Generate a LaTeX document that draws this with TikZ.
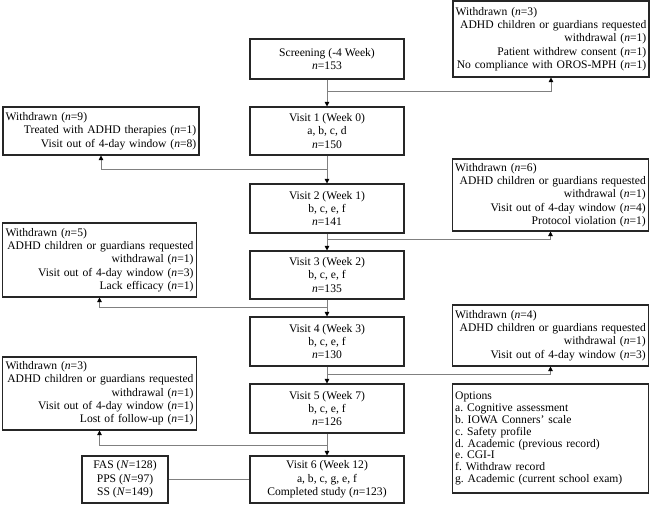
\documentclass[tikz,border=0pt]{standalone}
\usepackage{fontspec}
\setmainfont{Liberation Serif}
\usepackage{tikz}
\usetikzlibrary{arrows.meta}
\tikzset{
  visit/.style={draw=black!85, line width=0.8pt, align=center, minimum width=115.5pt, inner sep=2pt, font=\fontsize{8.7}{10}\selectfont},
  wbox/.style={draw=black!85, line width=0.8pt, align=right, text width=143pt, inner xsep=2pt, inner ysep=2pt, font=\fontsize{8.7}{10}\selectfont},
  obox/.style={draw=black!85, line width=0.8pt, align=left, text width=143pt, inner xsep=2pt, font=\fontsize{8.7}{8.9}\selectfont},
  link/.style={draw=black!50, line width=0.6pt},
  arr/.style={link, -{Triangle[length=3.5pt, width=3.5pt, color=black]}}
}
\newcommand{\wdhead}[1]{Withdrawn (\textit{n}=#1)\hfill\mbox{}}

\begin{document}
\begin{tikzpicture}[x=0.75pt, y=-0.75pt]
			%%%%% START %%%%%
			\useasboundingbox (0, 0) rectangle (650, 505);
			
			\node[visit, minimum height=30pt] (screen) at (327, 59) {Screening (-4 Week)\\\textit{n}=153};
			\node[visit, minimum height=36pt] (v1) at (327, 131) {Visit 1 (Week 0)\\a, b, c, d\\\textit{n}=150};
			\node[visit, minimum height=36.75pt] (v2) at (327, 208.5) {Visit 2 (Week 1)\\b, c, e, f\\\textit{n}=141};
			\node[visit, minimum height=36pt] (v3) at (327, 275) {Visit 3 (Week 2)\\b, c, e, f\\\textit{n}=135};
			\node[visit, minimum height=36.75pt] (v4) at (327, 341.5) {Visit 4 (Week 3)\\b, c, e, f\\\textit{n}=130};
			\node[visit, minimum height=36.75pt] (v5) at (327, 408.5) {Visit 5 (Week 7)\\b, c, e, f\\\textit{n}=126};
			\node[visit, minimum height=35.25pt] (v6) at (327, 479.5) {Visit 6 (Week 12)\\a, b, c, g, e, f\\Completed study (\textit{n}=123)};
			
			\node[visit, minimum width=64.5pt, minimum height=35.25pt] (fas) at (125, 479.5) {FAS (\textit{N}=128)\\PPS (\textit{N}=97)\\SS (\textit{N}=149)};
			
			\node[wbox, minimum height=57pt] (wd0) at (551, 39) {\wdhead{3}\\ADHD children or guardians requested\\withdrawal (\textit{n}=1)\\Patient withdrew consent (\textit{n}=1)\\No compliance with OROS-MPH (\textit{n}=1)};
			\node[wbox, minimum height=36pt] (wd1) at (101, 131) {\wdhead{9}\\Treated with ADHD therapies (\textit{n}=1)\\Visit out of 4-day window (\textit{n}=8)};
			\node[wbox, minimum height=54pt] (wd2) at (550.5, 195) {\wdhead{6}\\ADHD children or guardians requested\\withdrawal (\textit{n}=1)\\Visit out of 4-day window (\textit{n}=4)\\Protocol violation (\textit{n}=1)};
			\node[wbox, text width=141pt, minimum height=55.5pt] (wd3) at (99.5, 260) {\wdhead{5}\\ADHD children or guardians requested\\withdrawal (\textit{n}=1)\\Visit out of 4-day window (\textit{n}=3)\\Lack efficacy (\textit{n}=1)};
			\node[wbox, minimum height=45.75pt] (wd4) at (550.5, 335.5) {\wdhead{4}\\ADHD children or guardians requested\\withdrawal (\textit{n}=1)\\Visit out of 4-day window (\textit{n}=3)};
			\node[wbox, text width=141pt, minimum height=54.75pt] (wd5) at (99.5, 393.5) {\wdhead{3}\\ADHD children or guardians requested\\withdrawal (\textit{n}=1)\\Visit out of 4-day window (\textit{n}=1)\\Lost of follow-up (\textit{n}=1)};
			
			\node[obox, minimum height=81.75pt] (opts) at (550.5, 438.5) {Options\\a.\ Cognitive assessment\\b.\ IOWA Conners’ scale\\c.\ Safety profile\\d.\ Academic (previous record)\\e.\ CGI-I\\f.\ Withdraw record\\g.\ Academic (current school exam)};
			
			\coordinate (b0) at (327, 91);
			\coordinate (b1) at (327, 169);
			\coordinate (b2) at (327, 239);
			\coordinate (b3) at (327, 307);
			\coordinate (b4) at (327, 374);
			\coordinate (b5) at (327, 445);
			
			\draw[arr] (screen.south) -- (v1.north);
			\draw[arr] (v1.south) -- (v2.north);
			\draw[arr] (v2.south) -- (v3.north);
			\draw[arr] (v3.south) -- (v4.north);
			\draw[arr] (v4.south) -- (v5.north);
			\draw[arr] (v5.south) -- (v6.north);
			
			\draw[arr] (b0) -| (wd0.south);
			\draw[arr] (b1) -| (wd1.south);
			\draw[arr] (b2) -| (wd2.south);
			\draw[arr] (b3) -| (wd3.south);
			\draw[arr] (b4) -| (wd4.south);
			\draw[arr] (b5) -| (wd5.south);
			
			\draw[link] (fas.east) -- (v6.west);
			
			%%%%% END %%%%%
\end{tikzpicture}
\end{document}
